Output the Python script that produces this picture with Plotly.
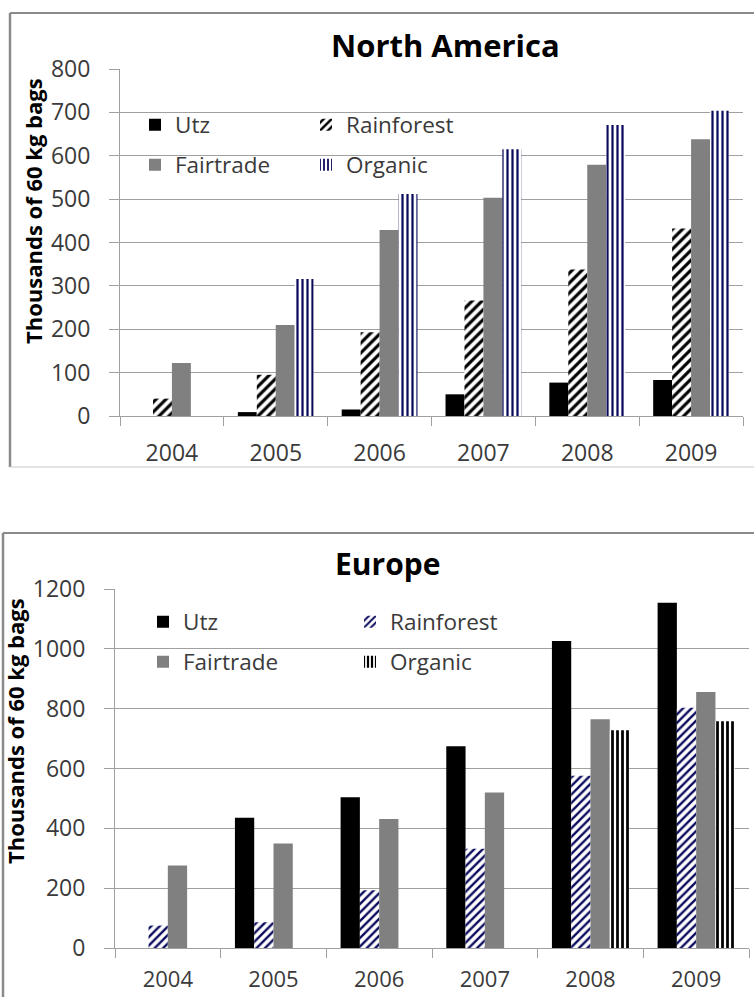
import plotly.graph_objects as go

# ---------------- data ----------------
years = ["2004", "2005", "2006", "2007", "2008", "2009"]
series_names = ["Utz", "Rainforest", "Fairtrade", "Organic"]

na_utz = [0, 9, 15, 50, 77, 83]
na_rainforest = [40, 95, 193, 266, 338, 432]
na_fairtrade = [122, 210, 429, 503, 579, 638]
na_organic = [0, 316, 512, 615, 671, 704]

eu_utz = [0, 435, 504, 674, 1026, 1154]
eu_rainforest = [75, 86, 193, 332, 576, 803]
eu_fairtrade = [276, 349, 431, 520, 765, 856]
eu_organic = [0, 0, 0, 0, 728, 758]

na_ticks = [0, 100, 200, 300, 400, 500, 600, 700, 800]
eu_ticks = [0, 200, 400, 600, 800, 1000, 1200]

# ---------------- layout helpers ----------------
W, H = 754, 997
FONT = "Open Sans"
NAVY = "#0b0b5e"
GRID = "#a0a0a0"
TXT = "#3a3a3a"


def px(x):
    return x / W


def py(y):
    return 1 - y / H


fig = go.Figure()


def add_bar(name, xs, ys, xaxis, yaxis, legend, style):
    marker = dict(line=dict(width=0))
    if style == "solid_black":
        marker["color"] = "#000000"
    elif style == "solid_gray":
        marker["color"] = "#808080"
    else:
        shape, fg, size, sol = style
        marker["color"] = "white"
        marker["pattern"] = dict(shape=shape, fgcolor=fg, bgcolor="white",
                                 size=size, solidity=sol, fillmode="replace")
    fig.add_trace(go.Bar(name=name, x=xs, y=ys, xaxis=xaxis, yaxis=yaxis,
                         legend=legend, marker=marker))


# North America
add_bar("Utz", years, na_utz, "x", "y", "legend", "solid_black")
add_bar("Rainforest", years, na_rainforest, "x", "y", "legend", ("/", "#000000", 7, 0.45))
add_bar("Fairtrade", years, na_fairtrade, "x", "y", "legend2", "solid_gray")
add_bar("Organic", years, na_organic, "x", "y", "legend2", ("|", NAVY, 5, 0.45))

# Europe
add_bar("Utz", years, eu_utz, "x2", "y2", "legend3", "solid_black")
add_bar("Rainforest", years, eu_rainforest, "x2", "y2", "legend3", ("/", NAVY, 6, 0.4))
add_bar("Fairtrade", years, eu_fairtrade, "x2", "y2", "legend4", "solid_gray")
add_bar("Organic", years, eu_organic, "x2", "y2", "legend4", ("|", "#000000", 5, 0.55))

xaxis_common = dict(type="category", tickson="boundaries", ticks="outside", ticklen=9,
                    tickcolor=GRID, showline=True, linecolor=GRID, linewidth=1,
                    showgrid=False, fixedrange=True, automargin=False)
yaxis_common = dict(ticks="outside", ticklen=10, tickcolor=GRID, showline=True,
                    linecolor=GRID, linewidth=1, showgrid=True, gridcolor=GRID,
                    gridwidth=1, zeroline=False,
                    tickfont=dict(family=FONT, size=23, color=TXT),
                    ticklabelstandoff=14, fixedrange=True, automargin=False)

legend_common = dict(orientation="h", bgcolor="rgba(0,0,0,0)", borderwidth=0,
                     font=dict(family=FONT, size=22.5, color=TXT),
                     xanchor="left", yanchor="middle", entrywidthmode="pixels",
                     traceorder="normal")

fig.update_layout(
    template="none",
    width=W, height=H, margin=dict(l=0, r=0, t=0, b=0, autoexpand=False),
    paper_bgcolor="white", plot_bgcolor="white",
    barmode="group", bargap=0.27, bargroupgap=0,
    font=dict(family=FONT, color=TXT),
    showlegend=True,
    xaxis=dict(domain=[px(120), px(743)], anchor="y",
               tickfont=dict(family=FONT, size=23, color=TXT),
               ticklabelstandoff=16, **xaxis_common),
    yaxis=dict(domain=[py(416), py(69)], anchor="x", range=[0, 800],
               tickvals=na_ticks, **yaxis_common),
    xaxis2=dict(domain=[px(115), px(749)], anchor="y2",
                tickfont=dict(family=FONT, size=22, color=TXT),
                ticklabelstandoff=12, **xaxis_common),
    yaxis2=dict(domain=[py(948), py(589)], anchor="x2", range=[0, 1200],
                tickvals=eu_ticks, **yaxis_common),
    legend=dict(x=px(135), y=py(125), entrywidth=126, **legend_common),
    legend2=dict(x=px(135), y=py(165), entrywidth=126, **legend_common),
    legend3=dict(x=px(143), y=py(622), entrywidth=162, **legend_common),
    legend4=dict(x=px(143), y=py(662), entrywidth=162, **legend_common),
)

# chart titles and y-axis titles
annots = [
    dict(text="<b>North America</b>", x=px(445), y=py(45), size=31, angle=0),
    dict(text="<b>Europe</b>", x=px(387), y=py(563), size=30, angle=0),
    dict(text="<b>Thousands of 60 kg bags</b>", x=px(33), y=py(211), size=22, angle=-90),
    dict(text="<b>Thousands of 60 kg bags</b>", x=px(15), y=py(731), size=22, angle=-90),
]
for a in annots:
    fig.add_annotation(text=a["text"], x=a["x"], y=a["y"], xref="paper", yref="paper",
                       xanchor="center", yanchor="middle", showarrow=False,
                       textangle=a["angle"],
                       font=dict(family=FONT, size=a["size"], color="#000000"))

# chart frames
frame = "#8a8a8a"
lines = [
    (10, 13, 754, 13, frame, 2),
    (10, 13, 10, 467, frame, 2.5),
    (10, 467, 754, 467, "#c8c8c8", 1),
    (3, 533, 754, 533, frame, 2),
    (3, 533, 3, 997, frame, 2.5),
]
for x0, y0, x1, y1, c, w in lines:
    fig.add_shape(type="line", xref="paper", yref="paper",
                  x0=px(x0), y0=py(y0), x1=px(x1), y1=py(y1),
                  line=dict(color=c, width=w))

fig.write_html("out.html")
